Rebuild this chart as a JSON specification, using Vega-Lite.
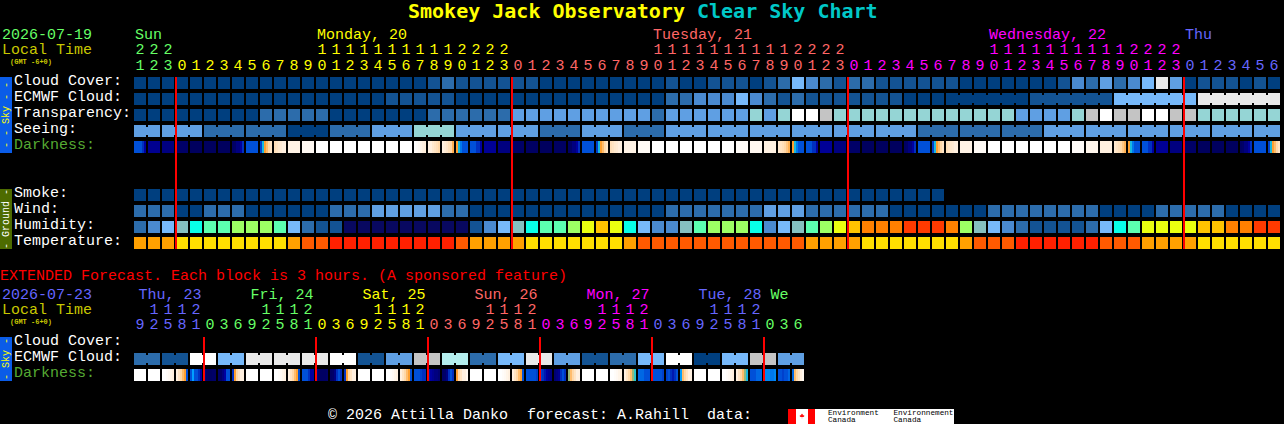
{"$schema":"https://vega.github.io/schema/vega-lite/v6.json","width":1284,"height":424,"padding":0,"autosize":{"type":"none"},"background":"#000000","config":{"view":{"stroke":null},"text":{"font":"Liberation Mono","fontSize":15,"align":"left","baseline":"middle"},"tick":{"opacity":1,"orient":"vertical"}},
"datasets":{"cells":[
{"row":"cc","i":0,"c":"b0"},{"row":"cc","i":1,"c":"b0"},{"row":"cc","i":2,"c":"b0"},{"row":"cc","i":3,"c":"b0"},{"row":"cc","i":4,"c":"b0"},{"row":"cc","i":5,"c":"b0"},{"row":"cc","i":6,"c":"b0"},{"row":"cc","i":7,"c":"b0"},{"row":"cc","i":8,"c":"b0"},{"row":"cc","i":9,"c":"b0"},{"row":"cc","i":10,"c":"b0"},{"row":"cc","i":11,"c":"b0"},{"row":"cc","i":12,"c":"b0"},{"row":"cc","i":13,"c":"b0"},{"row":"cc","i":14,"c":"b0"},{"row":"cc","i":15,"c":"b0"},{"row":"cc","i":16,"c":"b0"},{"row":"cc","i":17,"c":"b0"},{"row":"cc","i":18,"c":"b0"},{"row":"cc","i":19,"c":"b0"},{"row":"cc","i":20,"c":"b0"},{"row":"cc","i":21,"c":"b1"},{"row":"cc","i":22,"c":"b2"},{"row":"cc","i":23,"c":"b1"},{"row":"cc","i":24,"c":"b1"},{"row":"cc","i":25,"c":"b1"},{"row":"cc","i":26,"c":"b1"},{"row":"cc","i":27,"c":"b1"},{"row":"cc","i":28,"c":"b1"},{"row":"cc","i":29,"c":"b0"},{"row":"cc","i":30,"c":"b0"},{"row":"cc","i":31,"c":"b0"},{"row":"cc","i":32,"c":"b0"},{"row":"cc","i":33,"c":"b0"},{"row":"cc","i":34,"c":"b0"},{"row":"cc","i":35,"c":"b0"},{"row":"cc","i":36,"c":"b0"},{"row":"cc","i":37,"c":"b0"},{"row":"cc","i":38,"c":"b1"},{"row":"cc","i":39,"c":"b0"},{"row":"cc","i":40,"c":"b0"},{"row":"cc","i":41,"c":"b1"},{"row":"cc","i":42,"c":"b1"},{"row":"cc","i":43,"c":"b1"},{"row":"cc","i":44,"c":"b0"},{"row":"cc","i":45,"c":"b1"},{"row":"cc","i":46,"c":"b2"},{"row":"cc","i":47,"c":"b5"},{"row":"cc","i":48,"c":"b3"},{"row":"cc","i":49,"c":"b2"},{"row":"cc","i":50,"c":"b1"},{"row":"cc","i":51,"c":"b2"},{"row":"cc","i":52,"c":"b2"},{"row":"cc","i":53,"c":"b1"},{"row":"cc","i":54,"c":"b1"},{"row":"cc","i":55,"c":"b1"},{"row":"cc","i":56,"c":"b1"},{"row":"cc","i":57,"c":"b1"},{"row":"cc","i":58,"c":"b1"},{"row":"cc","i":59,"c":"b0"},{"row":"cc","i":60,"c":"b0"},{"row":"cc","i":61,"c":"b0"},{"row":"cc","i":62,"c":"b0"},{"row":"cc","i":63,"c":"b0"},{"row":"cc","i":64,"c":"b0"},{"row":"cc","i":65,"c":"b0"},{"row":"cc","i":66,"c":"b1"},{"row":"cc","i":67,"c":"b3"},{"row":"cc","i":68,"c":"b2"},{"row":"cc","i":69,"c":"b4"},{"row":"cc","i":70,"c":"b2"},{"row":"cc","i":71,"c":"b3"},{"row":"cc","i":72,"c":"b5"},{"row":"cc","i":73,"c":"lw"},{"row":"cc","i":74,"c":"b4"},{"row":"cc","i":75,"c":"b0"},{"row":"cc","i":76,"c":"b1"},{"row":"cc","i":77,"c":"b1"},{"row":"cc","i":78,"c":"b1"},{"row":"cc","i":79,"c":"b0"},{"row":"cc","i":80,"c":"b1"},{"row":"cc","i":81,"c":"b0"},
{"row":"ec","i":0,"c":"b0"},{"row":"ec","i":1,"c":"b0"},{"row":"ec","i":2,"c":"b0"},{"row":"ec","i":3,"c":"b0"},{"row":"ec","i":4,"c":"b0"},{"row":"ec","i":5,"c":"b0"},{"row":"ec","i":6,"c":"b0"},{"row":"ec","i":7,"c":"b0"},{"row":"ec","i":8,"c":"b0"},{"row":"ec","i":9,"c":"b0"},{"row":"ec","i":10,"c":"b0"},{"row":"ec","i":11,"c":"b0"},{"row":"ec","i":12,"c":"b0"},{"row":"ec","i":13,"c":"b0"},{"row":"ec","i":14,"c":"b0"},{"row":"ec","i":15,"c":"b0"},{"row":"ec","i":16,"c":"b0"},{"row":"ec","i":17,"c":"b0"},{"row":"ec","i":18,"c":"b1"},{"row":"ec","i":19,"c":"b1"},{"row":"ec","i":20,"c":"b1"},{"row":"ec","i":21,"c":"b1"},{"row":"ec","i":22,"c":"b1"},{"row":"ec","i":23,"c":"b0"},{"row":"ec","i":24,"c":"b0"},{"row":"ec","i":25,"c":"b0"},{"row":"ec","i":26,"c":"b0"},{"row":"ec","i":27,"c":"b0"},{"row":"ec","i":28,"c":"b0"},{"row":"ec","i":29,"c":"b0"},{"row":"ec","i":30,"c":"b0"},{"row":"ec","i":31,"c":"b0"},{"row":"ec","i":32,"c":"b0"},{"row":"ec","i":33,"c":"b0"},{"row":"ec","i":34,"c":"b0"},{"row":"ec","i":35,"c":"b0"},{"row":"ec","i":36,"c":"b0"},{"row":"ec","i":37,"c":"b0"},{"row":"ec","i":38,"c":"b2"},{"row":"ec","i":39,"c":"b2"},{"row":"ec","i":40,"c":"b3"},{"row":"ec","i":41,"c":"b3"},{"row":"ec","i":42,"c":"b3"},{"row":"ec","i":43,"c":"b5"},{"row":"ec","i":44,"c":"b3"},{"row":"ec","i":45,"c":"b2"},{"row":"ec","i":46,"c":"b1"},{"row":"ec","i":47,"c":"b2"},{"row":"ec","i":48,"c":"b1"},{"row":"ec","i":49,"c":"b1"},{"row":"ec","i":50,"c":"b1"},{"row":"ec","i":51,"c":"b1"},{"row":"ec","i":52,"c":"b1"},{"row":"ec","i":53,"c":"b1"},{"row":"ec","i":54,"c":"b1"},{"row":"ec","i":55,"c":"b0"},{"row":"ec","i":56,"c":"b0"},{"row":"ec","i":57,"c":"b0"},{"row":"ec","i":58,"c":"b0","j":1},{"row":"ec","i":59,"c":"b0","j":1},{"row":"ec","i":60,"c":"b0","j":1},{"row":"ec","i":61,"c":"b0","j":1},{"row":"ec","i":62,"c":"b0","j":1},{"row":"ec","i":63,"c":"b0"},{"row":"ec","i":64,"c":"b1","j":1},{"row":"ec","i":65,"c":"b1","j":1},{"row":"ec","i":66,"c":"b1","j":1},{"row":"ec","i":67,"c":"b1","j":1},{"row":"ec","i":68,"c":"b1","j":1},{"row":"ec","i":69,"c":"b1"},{"row":"ec","i":70,"c":"b5","j":1},{"row":"ec","i":71,"c":"b5","j":1},{"row":"ec","i":72,"c":"b5","j":1},{"row":"ec","i":73,"c":"b5","j":1},{"row":"ec","i":74,"c":"b5","j":1},{"row":"ec","i":75,"c":"b5"},{"row":"ec","i":76,"c":"lw","j":1},{"row":"ec","i":77,"c":"lw","j":1},{"row":"ec","i":78,"c":"lw","j":1},{"row":"ec","i":79,"c":"lw","j":1},{"row":"ec","i":80,"c":"lw","j":1},{"row":"ec","i":81,"c":"lw"},
{"row":"tr","i":0,"c":"b0"},{"row":"tr","i":1,"c":"b0"},{"row":"tr","i":2,"c":"b0"},{"row":"tr","i":3,"c":"b0"},{"row":"tr","i":4,"c":"b0"},{"row":"tr","i":5,"c":"b0"},{"row":"tr","i":6,"c":"b0"},{"row":"tr","i":7,"c":"b0"},{"row":"tr","i":8,"c":"b0"},{"row":"tr","i":9,"c":"b2"},{"row":"tr","i":10,"c":"b2"},{"row":"tr","i":11,"c":"b2"},{"row":"tr","i":12,"c":"b2"},{"row":"tr","i":13,"c":"b2"},{"row":"tr","i":14,"c":"b0"},{"row":"tr","i":15,"c":"b0"},{"row":"tr","i":16,"c":"b0"},{"row":"tr","i":17,"c":"b0"},{"row":"tr","i":18,"c":"b0"},{"row":"tr","i":19,"c":"b0"},{"row":"tr","i":20,"c":"b0"},{"row":"tr","i":21,"c":"b2"},{"row":"tr","i":22,"c":"b2"},{"row":"tr","i":23,"c":"b2"},{"row":"tr","i":24,"c":"b2"},{"row":"tr","i":25,"c":"b2"},{"row":"tr","i":26,"c":"b2"},{"row":"tr","i":27,"c":"b4"},{"row":"tr","i":28,"c":"b4"},{"row":"tr","i":29,"c":"b4"},{"row":"tr","i":30,"c":"b4"},{"row":"tr","i":31,"c":"b4"},{"row":"tr","i":32,"c":"b4"},{"row":"tr","i":33,"c":"b4"},{"row":"tr","i":34,"c":"b4"},{"row":"tr","i":35,"c":"b4"},{"row":"tr","i":36,"c":"b4"},{"row":"tr","i":37,"c":"b2"},{"row":"tr","i":38,"c":"b4"},{"row":"tr","i":39,"c":"b4"},{"row":"tr","i":40,"c":"b4"},{"row":"tr","i":41,"c":"b4"},{"row":"tr","i":42,"c":"b4"},{"row":"tr","i":43,"c":"b4"},{"row":"tr","i":44,"c":"teal"},{"row":"tr","i":45,"c":"b4"},{"row":"tr","i":46,"c":"teal"},{"row":"tr","i":47,"c":"wh"},{"row":"tr","i":48,"c":"wh"},{"row":"tr","i":49,"c":"gy"},{"row":"tr","i":50,"c":"teal"},{"row":"tr","i":51,"c":"teal"},{"row":"tr","i":52,"c":"teal"},{"row":"tr","i":53,"c":"teal"},{"row":"tr","i":54,"c":"teal"},{"row":"tr","i":55,"c":"teal"},{"row":"tr","i":56,"c":"teal"},{"row":"tr","i":57,"c":"teal"},{"row":"tr","i":58,"c":"teal"},{"row":"tr","i":59,"c":"teal"},{"row":"tr","i":60,"c":"teal"},{"row":"tr","i":61,"c":"teal"},{"row":"tr","i":62,"c":"teal"},{"row":"tr","i":63,"c":"b4"},{"row":"tr","i":64,"c":"b4"},{"row":"tr","i":65,"c":"b4"},{"row":"tr","i":66,"c":"b4"},{"row":"tr","i":67,"c":"teal"},{"row":"tr","i":68,"c":"gy"},{"row":"tr","i":69,"c":"wh"},{"row":"tr","i":70,"c":"gy"},{"row":"tr","i":71,"c":"gy"},{"row":"tr","i":72,"c":"wh"},{"row":"tr","i":73,"c":"wh"},{"row":"tr","i":74,"c":"gy"},{"row":"tr","i":75,"c":"gy"},{"row":"tr","i":76,"c":"teal"},{"row":"tr","i":77,"c":"teal"},{"row":"tr","i":78,"c":"teal"},{"row":"tr","i":79,"c":"teal"},{"row":"tr","i":80,"c":"teal"},{"row":"tr","i":81,"c":"teal"},
{"row":"se","i":0,"c":"b4","j":1},{"row":"se","i":1,"c":"b4"},{"row":"se","i":2,"c":"b4","j":1},{"row":"se","i":3,"c":"b4","j":1},{"row":"se","i":4,"c":"b4"},{"row":"se","i":5,"c":"b2","j":1},{"row":"se","i":6,"c":"b2","j":1},{"row":"se","i":7,"c":"b2"},{"row":"se","i":8,"c":"b2","j":1},{"row":"se","i":9,"c":"b2","j":1},{"row":"se","i":10,"c":"b2"},{"row":"se","i":11,"c":"b0","j":1},{"row":"se","i":12,"c":"b0","j":1},{"row":"se","i":13,"c":"b0"},{"row":"se","i":14,"c":"b2","j":1},{"row":"se","i":15,"c":"b2","j":1},{"row":"se","i":16,"c":"b2"},{"row":"se","i":17,"c":"b4","j":1},{"row":"se","i":18,"c":"b4","j":1},{"row":"se","i":19,"c":"b4"},{"row":"se","i":20,"c":"teal","j":1},{"row":"se","i":21,"c":"teal","j":1},{"row":"se","i":22,"c":"teal"},{"row":"se","i":23,"c":"b4","j":1},{"row":"se","i":24,"c":"b4","j":1},{"row":"se","i":25,"c":"b4"},{"row":"se","i":26,"c":"b4","j":1},{"row":"se","i":27,"c":"b4","j":1},{"row":"se","i":28,"c":"b4"},{"row":"se","i":29,"c":"b2","j":1},{"row":"se","i":30,"c":"b2","j":1},{"row":"se","i":31,"c":"b2"},{"row":"se","i":32,"c":"b4","j":1},{"row":"se","i":33,"c":"b4","j":1},{"row":"se","i":34,"c":"b4"},{"row":"se","i":35,"c":"b2","j":1},{"row":"se","i":36,"c":"b2","j":1},{"row":"se","i":37,"c":"b2"},{"row":"se","i":38,"c":"b4","j":1},{"row":"se","i":39,"c":"b4","j":1},{"row":"se","i":40,"c":"b4"},{"row":"se","i":41,"c":"b4","j":1},{"row":"se","i":42,"c":"b4","j":1},{"row":"se","i":43,"c":"b4"},{"row":"se","i":44,"c":"b4","j":1},{"row":"se","i":45,"c":"b4","j":1},{"row":"se","i":46,"c":"b4"},{"row":"se","i":47,"c":"b4","j":1},{"row":"se","i":48,"c":"b4","j":1},{"row":"se","i":49,"c":"b4"},{"row":"se","i":50,"c":"b4","j":1},{"row":"se","i":51,"c":"b4","j":1},{"row":"se","i":52,"c":"b4"},{"row":"se","i":53,"c":"b4","j":1},{"row":"se","i":54,"c":"b4","j":1},{"row":"se","i":55,"c":"b4"},{"row":"se","i":56,"c":"b2","j":1},{"row":"se","i":57,"c":"b2","j":1},{"row":"se","i":58,"c":"b2"},{"row":"se","i":59,"c":"b2","j":1},{"row":"se","i":60,"c":"b2","j":1},{"row":"se","i":61,"c":"b2"},{"row":"se","i":62,"c":"b2","j":1},{"row":"se","i":63,"c":"b2","j":1},{"row":"se","i":64,"c":"b2"},{"row":"se","i":65,"c":"b4","j":1},{"row":"se","i":66,"c":"b4","j":1},{"row":"se","i":67,"c":"b4"},{"row":"se","i":68,"c":"b4","j":1},{"row":"se","i":69,"c":"b4","j":1},{"row":"se","i":70,"c":"b4"},{"row":"se","i":71,"c":"b4","j":1},{"row":"se","i":72,"c":"b4","j":1},{"row":"se","i":73,"c":"b4"},{"row":"se","i":74,"c":"b4","j":1},{"row":"se","i":75,"c":"b4","j":1},{"row":"se","i":76,"c":"b4"},{"row":"se","i":77,"c":"b4","j":1},{"row":"se","i":78,"c":"b4","j":1},{"row":"se","i":79,"c":"b4"},{"row":"se","i":80,"c":"b4","j":1},{"row":"se","i":81,"c":"b4"},
{"row":"sm","i":0,"c":"b0"},{"row":"sm","i":1,"c":"b0"},{"row":"sm","i":2,"c":"b0"},{"row":"sm","i":3,"c":"b0"},{"row":"sm","i":4,"c":"b0"},{"row":"sm","i":5,"c":"b0"},{"row":"sm","i":6,"c":"b0"},{"row":"sm","i":7,"c":"b0"},{"row":"sm","i":8,"c":"b0"},{"row":"sm","i":9,"c":"b0"},{"row":"sm","i":10,"c":"b0"},{"row":"sm","i":11,"c":"b0"},{"row":"sm","i":12,"c":"b0"},{"row":"sm","i":13,"c":"b0"},{"row":"sm","i":14,"c":"b0"},{"row":"sm","i":15,"c":"b0"},{"row":"sm","i":16,"c":"b0"},{"row":"sm","i":17,"c":"b0"},{"row":"sm","i":18,"c":"b0"},{"row":"sm","i":19,"c":"b0"},{"row":"sm","i":20,"c":"b0"},{"row":"sm","i":21,"c":"b0"},{"row":"sm","i":22,"c":"b0"},{"row":"sm","i":23,"c":"b0"},{"row":"sm","i":24,"c":"b0"},{"row":"sm","i":25,"c":"b0"},{"row":"sm","i":26,"c":"b0"},{"row":"sm","i":27,"c":"b0"},{"row":"sm","i":28,"c":"b0"},{"row":"sm","i":29,"c":"b0"},{"row":"sm","i":30,"c":"b0"},{"row":"sm","i":31,"c":"b0"},{"row":"sm","i":32,"c":"b0"},{"row":"sm","i":33,"c":"b0"},{"row":"sm","i":34,"c":"b0"},{"row":"sm","i":35,"c":"b0"},{"row":"sm","i":36,"c":"b0"},{"row":"sm","i":37,"c":"b0"},{"row":"sm","i":38,"c":"b0"},{"row":"sm","i":39,"c":"b0"},{"row":"sm","i":40,"c":"b0"},{"row":"sm","i":41,"c":"b0"},{"row":"sm","i":42,"c":"b0"},{"row":"sm","i":43,"c":"b0"},{"row":"sm","i":44,"c":"b0"},{"row":"sm","i":45,"c":"b0"},{"row":"sm","i":46,"c":"b0"},{"row":"sm","i":47,"c":"b0"},{"row":"sm","i":48,"c":"b0"},{"row":"sm","i":49,"c":"b0"},{"row":"sm","i":50,"c":"b0"},{"row":"sm","i":51,"c":"b0"},{"row":"sm","i":52,"c":"b0"},{"row":"sm","i":53,"c":"b0"},{"row":"sm","i":54,"c":"b0"},{"row":"sm","i":55,"c":"b0"},{"row":"sm","i":56,"c":"b0"},{"row":"sm","i":57,"c":"b0"},
{"row":"wi","i":0,"c":"b2"},{"row":"wi","i":1,"c":"b2"},{"row":"wi","i":2,"c":"b2"},{"row":"wi","i":3,"c":"b0"},{"row":"wi","i":4,"c":"b0"},{"row":"wi","i":5,"c":"b2"},{"row":"wi","i":6,"c":"b2"},{"row":"wi","i":7,"c":"b2"},{"row":"wi","i":8,"c":"b0"},{"row":"wi","i":9,"c":"b0"},{"row":"wi","i":10,"c":"b0"},{"row":"wi","i":11,"c":"b0"},{"row":"wi","i":12,"c":"b0"},{"row":"wi","i":13,"c":"b0"},{"row":"wi","i":14,"c":"b2"},{"row":"wi","i":15,"c":"b2"},{"row":"wi","i":16,"c":"b2"},{"row":"wi","i":17,"c":"b4"},{"row":"wi","i":18,"c":"b4"},{"row":"wi","i":19,"c":"b4"},{"row":"wi","i":20,"c":"b4"},{"row":"wi","i":21,"c":"b4"},{"row":"wi","i":22,"c":"b2"},{"row":"wi","i":23,"c":"b2"},{"row":"wi","i":24,"c":"b0"},{"row":"wi","i":25,"c":"b0"},{"row":"wi","i":26,"c":"b0"},{"row":"wi","i":27,"c":"b0"},{"row":"wi","i":28,"c":"b0"},{"row":"wi","i":29,"c":"b0"},{"row":"wi","i":30,"c":"b0"},{"row":"wi","i":31,"c":"b0"},{"row":"wi","i":32,"c":"b0"},{"row":"wi","i":33,"c":"b0"},{"row":"wi","i":34,"c":"b0"},{"row":"wi","i":35,"c":"b0"},{"row":"wi","i":36,"c":"b0"},{"row":"wi","i":37,"c":"b0"},{"row":"wi","i":38,"c":"b2"},{"row":"wi","i":39,"c":"b2"},{"row":"wi","i":40,"c":"b2"},{"row":"wi","i":41,"c":"b2"},{"row":"wi","i":42,"c":"b2"},{"row":"wi","i":43,"c":"b2"},{"row":"wi","i":44,"c":"b2"},{"row":"wi","i":45,"c":"b4"},{"row":"wi","i":46,"c":"b4"},{"row":"wi","i":47,"c":"b4"},{"row":"wi","i":48,"c":"b2"},{"row":"wi","i":49,"c":"b2"},{"row":"wi","i":50,"c":"b2"},{"row":"wi","i":51,"c":"b2"},{"row":"wi","i":52,"c":"b2"},{"row":"wi","i":53,"c":"b2"},{"row":"wi","i":54,"c":"b0"},{"row":"wi","i":55,"c":"b0"},{"row":"wi","i":56,"c":"b0"},{"row":"wi","i":57,"c":"b0"},{"row":"wi","i":58,"c":"b0"},{"row":"wi","i":59,"c":"b0"},{"row":"wi","i":60,"c":"b0"},{"row":"wi","i":61,"c":"b2"},{"row":"wi","i":62,"c":"b2"},{"row":"wi","i":63,"c":"b2"},{"row":"wi","i":64,"c":"b2"},{"row":"wi","i":65,"c":"b2"},{"row":"wi","i":66,"c":"b2"},{"row":"wi","i":67,"c":"b2"},{"row":"wi","i":68,"c":"b2"},{"row":"wi","i":69,"c":"b0"},{"row":"wi","i":70,"c":"b0"},{"row":"wi","i":71,"c":"b0"},{"row":"wi","i":72,"c":"b0"},{"row":"wi","i":73,"c":"b2"},{"row":"wi","i":74,"c":"b2"},{"row":"wi","i":75,"c":"b2"},{"row":"wi","i":76,"c":"b2"},{"row":"wi","i":77,"c":"b2"},{"row":"wi","i":78,"c":"b0"},{"row":"wi","i":79,"c":"b0"},{"row":"wi","i":80,"c":"b0"},{"row":"wi","i":81,"c":"b0"},
{"row":"hu","i":0,"c":"b2"},{"row":"hu","i":1,"c":"b3"},{"row":"hu","i":2,"c":"b5"},{"row":"hu","i":3,"c":"ht"},{"row":"hu","i":4,"c":"cy"},{"row":"hu","i":5,"c":"g1"},{"row":"hu","i":6,"c":"g1"},{"row":"hu","i":7,"c":"g2"},{"row":"hu","i":8,"c":"g2"},{"row":"hu","i":9,"c":"g2"},{"row":"hu","i":10,"c":"g1"},{"row":"hu","i":11,"c":"b5"},{"row":"hu","i":12,"c":"b2"},{"row":"hu","i":13,"c":"b1"},{"row":"hu","i":14,"c":"b1"},{"row":"hu","i":15,"c":"navy"},{"row":"hu","i":16,"c":"navy"},{"row":"hu","i":17,"c":"navy"},{"row":"hu","i":18,"c":"navy"},{"row":"hu","i":19,"c":"navy"},{"row":"hu","i":20,"c":"navy"},{"row":"hu","i":21,"c":"navy"},{"row":"hu","i":22,"c":"navy"},{"row":"hu","i":23,"c":"navy"},{"row":"hu","i":24,"c":"b1"},{"row":"hu","i":25,"c":"b3"},{"row":"hu","i":26,"c":"b5"},{"row":"hu","i":27,"c":"ht"},{"row":"hu","i":28,"c":"cy"},{"row":"hu","i":29,"c":"g1"},{"row":"hu","i":30,"c":"g1"},{"row":"hu","i":31,"c":"g2"},{"row":"hu","i":32,"c":"y1"},{"row":"hu","i":33,"c":"y2"},{"row":"hu","i":34,"c":"y1"},{"row":"hu","i":35,"c":"cy"},{"row":"hu","i":36,"c":"b5"},{"row":"hu","i":37,"c":"b3"},{"row":"hu","i":38,"c":"b3"},{"row":"hu","i":39,"c":"ht"},{"row":"hu","i":40,"c":"g1"},{"row":"hu","i":41,"c":"g2"},{"row":"hu","i":42,"c":"g2"},{"row":"hu","i":43,"c":"g2"},{"row":"hu","i":44,"c":"cy"},{"row":"hu","i":45,"c":"b3"},{"row":"hu","i":46,"c":"b5"},{"row":"hu","i":47,"c":"ht"},{"row":"hu","i":48,"c":"g1"},{"row":"hu","i":49,"c":"g2"},{"row":"hu","i":50,"c":"y1"},{"row":"hu","i":51,"c":"y2"},{"row":"hu","i":52,"c":"o1"},{"row":"hu","i":53,"c":"o1"},{"row":"hu","i":54,"c":"o1"},{"row":"hu","i":55,"c":"o2"},{"row":"hu","i":56,"c":"o2"},{"row":"hu","i":57,"c":"o2"},{"row":"hu","i":58,"c":"o1"},{"row":"hu","i":59,"c":"g2"},{"row":"hu","i":60,"c":"ht"},{"row":"hu","i":61,"c":"b5"},{"row":"hu","i":62,"c":"b3"},{"row":"hu","i":63,"c":"b2"},{"row":"hu","i":64,"c":"b1"},{"row":"hu","i":65,"c":"b1"},{"row":"hu","i":66,"c":"b1"},{"row":"hu","i":67,"c":"b1"},{"row":"hu","i":68,"c":"b2"},{"row":"hu","i":69,"c":"b5"},{"row":"hu","i":70,"c":"cy"},{"row":"hu","i":71,"c":"g1"},{"row":"hu","i":72,"c":"y1"},{"row":"hu","i":73,"c":"y1"},{"row":"hu","i":74,"c":"y1"},{"row":"hu","i":75,"c":"y1"},{"row":"hu","i":76,"c":"y2"},{"row":"hu","i":77,"c":"y2"},{"row":"hu","i":78,"c":"o1"},{"row":"hu","i":79,"c":"o1"},{"row":"hu","i":80,"c":"o2"},{"row":"hu","i":81,"c":"o2"},
{"row":"te","i":0,"c":"To"},{"row":"te","i":1,"c":"To"},{"row":"te","i":2,"c":"To"},{"row":"te","i":3,"c":"Ty"},{"row":"te","i":4,"c":"Ty"},{"row":"te","i":5,"c":"Ty"},{"row":"te","i":6,"c":"Ty"},{"row":"te","i":7,"c":"Ty"},{"row":"te","i":8,"c":"Ty"},{"row":"te","i":9,"c":"Ty"},{"row":"te","i":10,"c":"Ty"},{"row":"te","i":11,"c":"To"},{"row":"te","i":12,"c":"Td"},{"row":"te","i":13,"c":"Td"},{"row":"te","i":14,"c":"Tr"},{"row":"te","i":15,"c":"Tr"},{"row":"te","i":16,"c":"Tr"},{"row":"te","i":17,"c":"Tr"},{"row":"te","i":18,"c":"Tr"},{"row":"te","i":19,"c":"Tr"},{"row":"te","i":20,"c":"Tr"},{"row":"te","i":21,"c":"Tr"},{"row":"te","i":22,"c":"Tr"},{"row":"te","i":23,"c":"Td"},{"row":"te","i":24,"c":"To"},{"row":"te","i":25,"c":"To"},{"row":"te","i":26,"c":"To"},{"row":"te","i":27,"c":"To"},{"row":"te","i":28,"c":"Ty"},{"row":"te","i":29,"c":"Ty"},{"row":"te","i":30,"c":"Ty"},{"row":"te","i":31,"c":"Ty"},{"row":"te","i":32,"c":"Ty"},{"row":"te","i":33,"c":"Ty"},{"row":"te","i":34,"c":"Ty"},{"row":"te","i":35,"c":"To"},{"row":"te","i":36,"c":"Td"},{"row":"te","i":37,"c":"Td"},{"row":"te","i":38,"c":"Td"},{"row":"te","i":39,"c":"Td"},{"row":"te","i":40,"c":"Td"},{"row":"te","i":41,"c":"Td"},{"row":"te","i":42,"c":"Td"},{"row":"te","i":43,"c":"Td"},{"row":"te","i":44,"c":"Td"},{"row":"te","i":45,"c":"Td"},{"row":"te","i":46,"c":"Td"},{"row":"te","i":47,"c":"Td"},{"row":"te","i":48,"c":"To"},{"row":"te","i":49,"c":"To"},{"row":"te","i":50,"c":"To"},{"row":"te","i":51,"c":"To"},{"row":"te","i":52,"c":"Ty"},{"row":"te","i":53,"c":"Ty"},{"row":"te","i":54,"c":"Ty"},{"row":"te","i":55,"c":"Ty"},{"row":"te","i":56,"c":"Ty"},{"row":"te","i":57,"c":"Ty"},{"row":"te","i":58,"c":"Ty"},{"row":"te","i":59,"c":"To"},{"row":"te","i":60,"c":"Td"},{"row":"te","i":61,"c":"Td"},{"row":"te","i":62,"c":"Td"},{"row":"te","i":63,"c":"Tr"},{"row":"te","i":64,"c":"Tr"},{"row":"te","i":65,"c":"Tr"},{"row":"te","i":66,"c":"Tr"},{"row":"te","i":67,"c":"Tr"},{"row":"te","i":68,"c":"Tr"},{"row":"te","i":69,"c":"Td"},{"row":"te","i":70,"c":"Td"},{"row":"te","i":71,"c":"Td"},{"row":"te","i":72,"c":"To"},{"row":"te","i":73,"c":"To"},{"row":"te","i":74,"c":"To"},{"row":"te","i":75,"c":"To"},{"row":"te","i":76,"c":"Ty"},{"row":"te","i":77,"c":"Ty"},{"row":"te","i":78,"c":"Ty"},{"row":"te","i":79,"c":"Ty"},{"row":"te","i":80,"c":"Ty"},{"row":"te","i":81,"c":"Ty"},
{"row":"xe","i":0,"c":"b2","j":1},{"row":"xe","i":1,"c":"b2"},{"row":"xe","i":2,"c":"b1","j":1},{"row":"xe","i":3,"c":"b1"},{"row":"xe","i":4,"c":"wh","j":1},{"row":"xe","i":5,"c":"wh"},{"row":"xe","i":6,"c":"b5","j":1},{"row":"xe","i":7,"c":"b5"},{"row":"xe","i":8,"c":"lw","j":1},{"row":"xe","i":9,"c":"lw"},{"row":"xe","i":10,"c":"lw","j":1},{"row":"xe","i":11,"c":"lw"},{"row":"xe","i":12,"c":"lw","j":1},{"row":"xe","i":13,"c":"lw"},{"row":"xe","i":14,"c":"wh","j":1},{"row":"xe","i":15,"c":"wh"},{"row":"xe","i":16,"c":"b1","j":1},{"row":"xe","i":17,"c":"b1"},{"row":"xe","i":18,"c":"b4","j":1},{"row":"xe","i":19,"c":"b4"},{"row":"xe","i":20,"c":"gy","j":1},{"row":"xe","i":21,"c":"gy"},{"row":"xe","i":22,"c":"pale","j":1},{"row":"xe","i":23,"c":"pale"},{"row":"xe","i":24,"c":"b2","j":1},{"row":"xe","i":25,"c":"b2"},{"row":"xe","i":26,"c":"b5","j":1},{"row":"xe","i":27,"c":"b5"},{"row":"xe","i":28,"c":"lw","j":1},{"row":"xe","i":29,"c":"lw"},{"row":"xe","i":30,"c":"b4","j":1},{"row":"xe","i":31,"c":"b4"},{"row":"xe","i":32,"c":"b1","j":1},{"row":"xe","i":33,"c":"b1"},{"row":"xe","i":34,"c":"b2","j":1},{"row":"xe","i":35,"c":"b2"},{"row":"xe","i":36,"c":"b5","j":1},{"row":"xe","i":37,"c":"b5"},{"row":"xe","i":38,"c":"wh","j":1},{"row":"xe","i":39,"c":"wh"},{"row":"xe","i":40,"c":"b0","j":1},{"row":"xe","i":41,"c":"b0"},{"row":"xe","i":42,"c":"b5","j":1},{"row":"xe","i":43,"c":"b5"},{"row":"xe","i":44,"c":"gy","j":1},{"row":"xe","i":45,"c":"gy"},{"row":"xe","i":46,"c":"b4","j":1},{"row":"xe","i":47,"c":"b4"}
],
"dark":[
{"row":"da","i":0,"s":0,"d":4},{"row":"da","i":0,"s":1,"d":4},{"row":"da","i":0,"s":2,"d":4},{"row":"da","i":0,"s":3,"d":4},{"row":"da","i":0,"s":4,"d":3},{"row":"da","i":0,"s":5,"d":2},
{"row":"da","i":1,"d":1.5},{"row":"da","i":2,"d":1},{"row":"da","i":3,"d":0.5},{"row":"da","i":4,"d":0.3},{"row":"da","i":5,"d":0.3},{"row":"da","i":6,"d":0.3},
{"row":"da","i":7,"s":0,"d":0.4},{"row":"da","i":7,"s":1,"d":0.5},{"row":"da","i":7,"s":2,"d":1},{"row":"da","i":7,"s":3,"d":1},{"row":"da","i":7,"s":4,"d":2},{"row":"da","i":7,"s":5,"d":3},
{"row":"da","i":8,"d":4},
{"row":"da","i":9,"s":0,"d":3.5},{"row":"da","i":9,"s":1,"d":5.5},{"row":"da","i":9,"s":2,"d":7},{"row":"da","i":9,"s":3,"d":7.5},{"row":"da","i":9,"s":4,"d":8},{"row":"da","i":9,"s":5,"d":8.5},
{"row":"da","i":10,"s":0,"d":8.3},{"row":"da","i":10,"s":1,"d":8.5},{"row":"da","i":10,"s":2,"d":8.7},{"row":"da","i":10,"s":3,"d":8.8},{"row":"da","i":10,"s":4,"d":9},{"row":"da","i":10,"s":5,"d":9},
{"row":"da","i":11,"d":9.2},{"row":"da","i":12,"d":9.6},{"row":"da","i":13,"d":10},{"row":"da","i":14,"d":10},{"row":"da","i":15,"d":10},{"row":"da","i":16,"d":10},{"row":"da","i":17,"d":10},{"row":"da","i":18,"d":10},{"row":"da","i":19,"d":10},
{"row":"da","i":20,"s":0,"d":10},{"row":"da","i":20,"s":1,"d":9.8},{"row":"da","i":20,"s":2,"d":9.6},{"row":"da","i":20,"s":3,"d":9.3},{"row":"da","i":20,"s":4,"d":9},{"row":"da","i":20,"s":5,"d":8.9},
{"row":"da","i":21,"s":0,"d":9},{"row":"da","i":21,"s":1,"d":9},{"row":"da","i":21,"s":2,"d":8.7},{"row":"da","i":21,"s":3,"d":8.5},{"row":"da","i":21,"s":4,"d":8.3},{"row":"da","i":21,"s":5,"d":8},
{"row":"da","i":22,"s":0,"d":9},{"row":"da","i":22,"s":1,"d":8.8},{"row":"da","i":22,"s":2,"d":8.6},{"row":"da","i":22,"s":3,"d":8.3},{"row":"da","i":22,"s":4,"d":8},{"row":"da","i":22,"s":5,"d":7.3},
{"row":"da","i":23,"s":0,"d":7},{"row":"da","i":23,"s":1,"d":5.5},{"row":"da","i":23,"s":2,"d":4.5},{"row":"da","i":23,"s":3,"d":4},{"row":"da","i":23,"s":4,"d":4},{"row":"da","i":23,"s":5,"d":4},
{"row":"da","i":24,"s":0,"d":4},{"row":"da","i":24,"s":1,"d":4},{"row":"da","i":24,"s":2,"d":4},{"row":"da","i":24,"s":3,"d":3},{"row":"da","i":24,"s":4,"d":3},{"row":"da","i":24,"s":5,"d":2},
{"row":"da","i":25,"d":1.7},{"row":"da","i":26,"d":1},{"row":"da","i":27,"d":0.5},{"row":"da","i":28,"d":0.4},{"row":"da","i":29,"d":0.3},{"row":"da","i":30,"d":0.4},
{"row":"da","i":31,"s":0,"d":0.4},{"row":"da","i":31,"s":1,"d":0.5},{"row":"da","i":31,"s":2,"d":1},{"row":"da","i":31,"s":3,"d":1},{"row":"da","i":31,"s":4,"d":2},{"row":"da","i":31,"s":5,"d":3},
{"row":"da","i":32,"d":4},
{"row":"da","i":33,"s":0,"d":3.5},{"row":"da","i":33,"s":1,"d":5.5},{"row":"da","i":33,"s":2,"d":7},{"row":"da","i":33,"s":3,"d":7.5},{"row":"da","i":33,"s":4,"d":8},{"row":"da","i":33,"s":5,"d":8.5},
{"row":"da","i":34,"s":0,"d":8.3},{"row":"da","i":34,"s":1,"d":8.5},{"row":"da","i":34,"s":2,"d":8.7},{"row":"da","i":34,"s":3,"d":8.8},{"row":"da","i":34,"s":4,"d":9},{"row":"da","i":34,"s":5,"d":9},
{"row":"da","i":35,"d":9.2},{"row":"da","i":36,"d":9.7},{"row":"da","i":37,"d":10},{"row":"da","i":38,"d":10},{"row":"da","i":39,"d":10},{"row":"da","i":40,"d":10},{"row":"da","i":41,"d":10},{"row":"da","i":42,"d":10},{"row":"da","i":43,"d":9.8},{"row":"da","i":44,"d":9.5},{"row":"da","i":45,"d":9.1},
{"row":"da","i":46,"s":0,"d":8.7},{"row":"da","i":46,"s":1,"d":8.5},{"row":"da","i":46,"s":2,"d":8.3},{"row":"da","i":46,"s":3,"d":8},{"row":"da","i":46,"s":4,"d":7.7},{"row":"da","i":46,"s":5,"d":7.3},
{"row":"da","i":47,"s":0,"d":7},{"row":"da","i":47,"s":1,"d":5.5},{"row":"da","i":47,"s":2,"d":4.5},{"row":"da","i":47,"s":3,"d":4},{"row":"da","i":47,"s":4,"d":4},{"row":"da","i":47,"s":5,"d":4},
{"row":"da","i":48,"s":0,"d":4},{"row":"da","i":48,"s":1,"d":4},{"row":"da","i":48,"s":2,"d":4},{"row":"da","i":48,"s":3,"d":3},{"row":"da","i":48,"s":4,"d":3},{"row":"da","i":48,"s":5,"d":2},
{"row":"da","i":49,"d":1.7},{"row":"da","i":50,"d":1},{"row":"da","i":51,"d":0.5},{"row":"da","i":52,"d":0.3},{"row":"da","i":53,"d":0.3},{"row":"da","i":54,"d":0.3},
{"row":"da","i":55,"s":0,"d":0.4},{"row":"da","i":55,"s":1,"d":0.5},{"row":"da","i":55,"s":2,"d":1},{"row":"da","i":55,"s":3,"d":1},{"row":"da","i":55,"s":4,"d":2},{"row":"da","i":55,"s":5,"d":3},
{"row":"da","i":56,"d":4},
{"row":"da","i":57,"s":0,"d":3.5},{"row":"da","i":57,"s":1,"d":5.5},{"row":"da","i":57,"s":2,"d":7},{"row":"da","i":57,"s":3,"d":7.5},{"row":"da","i":57,"s":4,"d":8},{"row":"da","i":57,"s":5,"d":8.5},
{"row":"da","i":58,"s":0,"d":8.3},{"row":"da","i":58,"s":1,"d":8.5},{"row":"da","i":58,"s":2,"d":8.7},{"row":"da","i":58,"s":3,"d":8.8},{"row":"da","i":58,"s":4,"d":9},{"row":"da","i":58,"s":5,"d":9},
{"row":"da","i":59,"d":9.2},{"row":"da","i":60,"d":9.7},{"row":"da","i":61,"d":10},{"row":"da","i":62,"d":10},{"row":"da","i":63,"d":10},{"row":"da","i":64,"d":10},{"row":"da","i":65,"d":10},{"row":"da","i":66,"d":10},{"row":"da","i":67,"d":9.8},{"row":"da","i":68,"d":9.4},{"row":"da","i":69,"d":9},
{"row":"da","i":70,"s":0,"d":8.7},{"row":"da","i":70,"s":1,"d":8.5},{"row":"da","i":70,"s":2,"d":8.3},{"row":"da","i":70,"s":3,"d":8},{"row":"da","i":70,"s":4,"d":7.7},{"row":"da","i":70,"s":5,"d":7.3},
{"row":"da","i":71,"s":0,"d":7},{"row":"da","i":71,"s":1,"d":5.5},{"row":"da","i":71,"s":2,"d":4.5},{"row":"da","i":71,"s":3,"d":4},{"row":"da","i":71,"s":4,"d":4},{"row":"da","i":71,"s":5,"d":4},
{"row":"da","i":72,"s":0,"d":4},{"row":"da","i":72,"s":1,"d":4},{"row":"da","i":72,"s":2,"d":4},{"row":"da","i":72,"s":3,"d":3},{"row":"da","i":72,"s":4,"d":3},{"row":"da","i":72,"s":5,"d":2},
{"row":"da","i":73,"d":1.7},{"row":"da","i":74,"d":1},{"row":"da","i":75,"d":0.5},{"row":"da","i":76,"d":0.3},{"row":"da","i":77,"d":0.3},{"row":"da","i":78,"d":0.3},
{"row":"da","i":79,"s":0,"d":0.4},{"row":"da","i":79,"s":1,"d":0.5},{"row":"da","i":79,"s":2,"d":1},{"row":"da","i":79,"s":3,"d":1},{"row":"da","i":79,"s":4,"d":2},{"row":"da","i":79,"s":5,"d":3},
{"row":"da","i":80,"d":4},
{"row":"da","i":81,"s":0,"d":3.5},{"row":"da","i":81,"s":1,"d":5.5},{"row":"da","i":81,"s":2,"d":7},{"row":"da","i":81,"s":3,"d":7.5},{"row":"da","i":81,"s":4,"d":8},{"row":"da","i":81,"s":5,"d":8.5},
{"row":"xd","i":0,"d":10},{"row":"xd","i":1,"d":10},
{"row":"xd","i":2,"s":0,"d":10},{"row":"xd","i":2,"s":1,"d":10},{"row":"xd","i":2,"s":2,"d":9.8},{"row":"xd","i":2,"s":3,"d":9.6},{"row":"xd","i":2,"s":4,"d":9.3},{"row":"xd","i":2,"s":5,"d":9},
{"row":"xd","i":3,"s":0,"d":9},{"row":"xd","i":3,"s":1,"d":8.5},{"row":"xd","i":3,"s":2,"d":8},{"row":"xd","i":3,"s":3,"d":7.5},{"row":"xd","i":3,"s":4,"d":7},{"row":"xd","i":3,"s":5,"d":4},
{"row":"xd","i":4,"s":0,"d":4},{"row":"xd","i":4,"s":1,"d":5},{"row":"xd","i":4,"s":2,"d":4},{"row":"xd","i":4,"s":3,"d":4},{"row":"xd","i":4,"s":4,"d":3},{"row":"xd","i":4,"s":5,"d":2},
{"row":"xd","i":5,"s":0,"d":1},{"row":"xd","i":5,"s":1,"d":0.5},{"row":"xd","i":5,"s":2,"d":0.4},{"row":"xd","i":5,"s":3,"d":0.4},{"row":"xd","i":5,"s":4,"d":0.5},{"row":"xd","i":5,"s":5,"d":0.5},
{"row":"xd","i":6,"s":0,"d":0.5},{"row":"xd","i":6,"s":1,"d":0.5},{"row":"xd","i":6,"s":2,"d":1},{"row":"xd","i":6,"s":3,"d":2},{"row":"xd","i":6,"s":4,"d":4},{"row":"xd","i":6,"s":5,"d":4},
{"row":"xd","i":7,"s":0,"d":3},{"row":"xd","i":7,"s":1,"d":7},{"row":"xd","i":7,"s":2,"d":8},{"row":"xd","i":7,"s":3,"d":8.5},{"row":"xd","i":7,"s":4,"d":9},{"row":"xd","i":7,"s":5,"d":9},
{"row":"xd","i":8,"d":10},{"row":"xd","i":9,"d":10},
{"row":"xd","i":10,"s":0,"d":10},{"row":"xd","i":10,"s":1,"d":10},{"row":"xd","i":10,"s":2,"d":9.8},{"row":"xd","i":10,"s":3,"d":9.6},{"row":"xd","i":10,"s":4,"d":9.3},{"row":"xd","i":10,"s":5,"d":9},
{"row":"xd","i":11,"s":0,"d":9},{"row":"xd","i":11,"s":1,"d":8.5},{"row":"xd","i":11,"s":2,"d":8},{"row":"xd","i":11,"s":3,"d":7.5},{"row":"xd","i":11,"s":4,"d":7},{"row":"xd","i":11,"s":5,"d":4},
{"row":"xd","i":12,"s":0,"d":4},{"row":"xd","i":12,"s":1,"d":4},{"row":"xd","i":12,"s":2,"d":4},{"row":"xd","i":12,"s":3,"d":3},{"row":"xd","i":12,"s":4,"d":2},{"row":"xd","i":12,"s":5,"d":2},
{"row":"xd","i":13,"s":0,"d":1},{"row":"xd","i":13,"s":1,"d":0.5},{"row":"xd","i":13,"s":2,"d":0.4},{"row":"xd","i":13,"s":3,"d":0.4},{"row":"xd","i":13,"s":4,"d":0.4},{"row":"xd","i":13,"s":5,"d":0.5},
{"row":"xd","i":14,"s":0,"d":0.4},{"row":"xd","i":14,"s":1,"d":0.5},{"row":"xd","i":14,"s":2,"d":1},{"row":"xd","i":14,"s":3,"d":3},{"row":"xd","i":14,"s":4,"d":4},{"row":"xd","i":14,"s":5,"d":3},
{"row":"xd","i":15,"s":0,"d":3},{"row":"xd","i":15,"s":1,"d":7},{"row":"xd","i":15,"s":2,"d":8},{"row":"xd","i":15,"s":3,"d":8.5},{"row":"xd","i":15,"s":4,"d":9},{"row":"xd","i":15,"s":5,"d":9},
{"row":"xd","i":16,"d":10},{"row":"xd","i":17,"d":10},
{"row":"xd","i":18,"s":0,"d":10},{"row":"xd","i":18,"s":1,"d":10},{"row":"xd","i":18,"s":2,"d":9.8},{"row":"xd","i":18,"s":3,"d":9.6},{"row":"xd","i":18,"s":4,"d":9.3},{"row":"xd","i":18,"s":5,"d":9},
{"row":"xd","i":19,"s":0,"d":9},{"row":"xd","i":19,"s":1,"d":8.5},{"row":"xd","i":19,"s":2,"d":8},{"row":"xd","i":19,"s":3,"d":7.5},{"row":"xd","i":19,"s":4,"d":7},{"row":"xd","i":19,"s":5,"d":4},
{"row":"xd","i":20,"s":0,"d":4},{"row":"xd","i":20,"s":1,"d":4},{"row":"xd","i":20,"s":2,"d":4},{"row":"xd","i":20,"s":3,"d":3.5},{"row":"xd","i":20,"s":4,"d":3},{"row":"xd","i":20,"s":5,"d":3},
{"row":"xd","i":21,"s":0,"d":2.5},{"row":"xd","i":21,"s":1,"d":2},{"row":"xd","i":21,"s":2,"d":1.5},{"row":"xd","i":21,"s":3,"d":1},{"row":"xd","i":21,"s":4,"d":1},{"row":"xd","i":21,"s":5,"d":0.7},
{"row":"xd","i":22,"s":0,"d":0.4},{"row":"xd","i":22,"s":1,"d":0.5},{"row":"xd","i":22,"s":2,"d":1},{"row":"xd","i":22,"s":3,"d":3},{"row":"xd","i":22,"s":4,"d":4},{"row":"xd","i":22,"s":5,"d":3},
{"row":"xd","i":23,"s":0,"d":7},{"row":"xd","i":23,"s":1,"d":8},{"row":"xd","i":23,"s":2,"d":8.5},{"row":"xd","i":23,"s":3,"d":9},{"row":"xd","i":23,"s":4,"d":9},{"row":"xd","i":23,"s":5,"d":9.5},
{"row":"xd","i":24,"d":10},{"row":"xd","i":25,"d":10},
{"row":"xd","i":26,"s":0,"d":10},{"row":"xd","i":26,"s":1,"d":10},{"row":"xd","i":26,"s":2,"d":9.8},{"row":"xd","i":26,"s":3,"d":9.6},{"row":"xd","i":26,"s":4,"d":9.3},{"row":"xd","i":26,"s":5,"d":9},
{"row":"xd","i":27,"s":0,"d":9},{"row":"xd","i":27,"s":1,"d":8.5},{"row":"xd","i":27,"s":2,"d":8},{"row":"xd","i":27,"s":3,"d":7.5},{"row":"xd","i":27,"s":4,"d":7},{"row":"xd","i":27,"s":5,"d":4},
{"row":"xd","i":28,"s":0,"d":4},{"row":"xd","i":28,"s":1,"d":4},{"row":"xd","i":28,"s":2,"d":4},{"row":"xd","i":28,"s":3,"d":4},{"row":"xd","i":28,"s":4,"d":4},{"row":"xd","i":28,"s":5,"d":3.5},
{"row":"xd","i":29,"s":0,"d":3.5},{"row":"xd","i":29,"s":1,"d":3},{"row":"xd","i":29,"s":2,"d":2.5},{"row":"xd","i":29,"s":3,"d":2},{"row":"xd","i":29,"s":4,"d":1.5},{"row":"xd","i":29,"s":5,"d":1},
{"row":"xd","i":30,"s":0,"d":0.7},{"row":"xd","i":30,"s":1,"d":1},{"row":"xd","i":30,"s":2,"d":1.5},{"row":"xd","i":30,"s":3,"d":3},{"row":"xd","i":30,"s":4,"d":4},{"row":"xd","i":30,"s":5,"d":3},
{"row":"xd","i":31,"s":0,"d":6.5},{"row":"xd","i":31,"s":1,"d":7.5},{"row":"xd","i":31,"s":2,"d":8},{"row":"xd","i":31,"s":3,"d":8.5},{"row":"xd","i":31,"s":4,"d":9},{"row":"xd","i":31,"s":5,"d":9},
{"row":"xd","i":32,"d":10},{"row":"xd","i":33,"d":10},
{"row":"xd","i":34,"s":0,"d":10},{"row":"xd","i":34,"s":1,"d":10},{"row":"xd","i":34,"s":2,"d":9.8},{"row":"xd","i":34,"s":3,"d":9.6},{"row":"xd","i":34,"s":4,"d":9.3},{"row":"xd","i":34,"s":5,"d":9},
{"row":"xd","i":35,"s":0,"d":9},{"row":"xd","i":35,"s":1,"d":8.5},{"row":"xd","i":35,"s":2,"d":8},{"row":"xd","i":35,"s":3,"d":7.5},{"row":"xd","i":35,"s":4,"d":6.5},{"row":"xd","i":35,"s":5,"d":5.8},
{"row":"xd","i":36,"s":0,"d":4.3},{"row":"xd","i":36,"s":1,"d":4.3},{"row":"xd","i":36,"s":2,"d":4.3},{"row":"xd","i":36,"s":3,"d":4},{"row":"xd","i":36,"s":4,"d":4},{"row":"xd","i":36,"s":5,"d":4},
{"row":"xd","i":37,"s":0,"d":4},{"row":"xd","i":37,"s":1,"d":4},{"row":"xd","i":37,"s":2,"d":4},{"row":"xd","i":37,"s":3,"d":4},{"row":"xd","i":37,"s":4,"d":4},{"row":"xd","i":37,"s":5,"d":3.5},
{"row":"xd","i":38,"s":0,"d":3.5},{"row":"xd","i":38,"s":1,"d":4},{"row":"xd","i":38,"s":2,"d":3},{"row":"xd","i":38,"s":3,"d":2.5},{"row":"xd","i":38,"s":4,"d":3},{"row":"xd","i":38,"s":5,"d":4},
{"row":"xd","i":39,"s":0,"d":5},{"row":"xd","i":39,"s":1,"d":7.5},{"row":"xd","i":39,"s":2,"d":8},{"row":"xd","i":39,"s":3,"d":8.5},{"row":"xd","i":39,"s":4,"d":9},{"row":"xd","i":39,"s":5,"d":9},
{"row":"xd","i":40,"d":10},{"row":"xd","i":41,"d":10},
{"row":"xd","i":42,"s":0,"d":10},{"row":"xd","i":42,"s":1,"d":10},{"row":"xd","i":42,"s":2,"d":9.8},{"row":"xd","i":42,"s":3,"d":9.6},{"row":"xd","i":42,"s":4,"d":9.3},{"row":"xd","i":42,"s":5,"d":9},
{"row":"xd","i":43,"s":0,"d":9},{"row":"xd","i":43,"s":1,"d":8.5},{"row":"xd","i":43,"s":2,"d":8},{"row":"xd","i":43,"s":3,"d":7.5},{"row":"xd","i":43,"s":4,"d":6.5},{"row":"xd","i":43,"s":5,"d":5.5},
{"row":"xd","i":44,"s":0,"d":4},{"row":"xd","i":44,"s":1,"d":4},{"row":"xd","i":44,"s":2,"d":4},{"row":"xd","i":44,"s":3,"d":4.3},{"row":"xd","i":44,"s":4,"d":4.3},{"row":"xd","i":44,"s":5,"d":4.3},
{"row":"xd","i":45,"s":0,"d":4.7},{"row":"xd","i":45,"s":1,"d":4.7},{"row":"xd","i":45,"s":2,"d":4.7},{"row":"xd","i":45,"s":3,"d":4.5},{"row":"xd","i":45,"s":4,"d":4.5},{"row":"xd","i":45,"s":5,"d":4.7},
{"row":"xd","i":46,"s":0,"d":4},{"row":"xd","i":46,"s":1,"d":4},{"row":"xd","i":46,"s":2,"d":3.5},{"row":"xd","i":46,"s":3,"d":4},{"row":"xd","i":46,"s":4,"d":4},{"row":"xd","i":46,"s":5,"d":4.3},
{"row":"xd","i":47,"s":0,"d":4.3},{"row":"xd","i":47,"s":1,"d":7.5},{"row":"xd","i":47,"s":2,"d":8},{"row":"xd","i":47,"s":3,"d":8.5},{"row":"xd","i":47,"s":4,"d":9},{"row":"xd","i":47,"s":5,"d":9.5}
],
"hours":[{"i":0,"tens":"2","ones":"1","date":19},{"i":1,"tens":"2","ones":"2","date":19},{"i":2,"tens":"2","ones":"3","date":19},
{"i":3,"tens":"","ones":"0","date":20},{"i":4,"tens":"","ones":"1","date":20},{"i":5,"tens":"","ones":"2","date":20},{"i":6,"tens":"","ones":"3","date":20},{"i":7,"tens":"","ones":"4","date":20},{"i":8,"tens":"","ones":"5","date":20},{"i":9,"tens":"","ones":"6","date":20},{"i":10,"tens":"","ones":"7","date":20},{"i":11,"tens":"","ones":"8","date":20},{"i":12,"tens":"","ones":"9","date":20},{"i":13,"tens":"1","ones":"0","date":20},{"i":14,"tens":"1","ones":"1","date":20},{"i":15,"tens":"1","ones":"2","date":20},{"i":16,"tens":"1","ones":"3","date":20},{"i":17,"tens":"1","ones":"4","date":20},{"i":18,"tens":"1","ones":"5","date":20},{"i":19,"tens":"1","ones":"6","date":20},{"i":20,"tens":"1","ones":"7","date":20},{"i":21,"tens":"1","ones":"8","date":20},{"i":22,"tens":"1","ones":"9","date":20},{"i":23,"tens":"2","ones":"0","date":20},{"i":24,"tens":"2","ones":"1","date":20},{"i":25,"tens":"2","ones":"2","date":20},{"i":26,"tens":"2","ones":"3","date":20},
{"i":27,"tens":"","ones":"0","date":21},{"i":28,"tens":"","ones":"1","date":21},{"i":29,"tens":"","ones":"2","date":21},{"i":30,"tens":"","ones":"3","date":21},{"i":31,"tens":"","ones":"4","date":21},{"i":32,"tens":"","ones":"5","date":21},{"i":33,"tens":"","ones":"6","date":21},{"i":34,"tens":"","ones":"7","date":21},{"i":35,"tens":"","ones":"8","date":21},{"i":36,"tens":"","ones":"9","date":21},{"i":37,"tens":"1","ones":"0","date":21},{"i":38,"tens":"1","ones":"1","date":21},{"i":39,"tens":"1","ones":"2","date":21},{"i":40,"tens":"1","ones":"3","date":21},{"i":41,"tens":"1","ones":"4","date":21},{"i":42,"tens":"1","ones":"5","date":21},{"i":43,"tens":"1","ones":"6","date":21},{"i":44,"tens":"1","ones":"7","date":21},{"i":45,"tens":"1","ones":"8","date":21},{"i":46,"tens":"1","ones":"9","date":21},{"i":47,"tens":"2","ones":"0","date":21},{"i":48,"tens":"2","ones":"1","date":21},{"i":49,"tens":"2","ones":"2","date":21},{"i":50,"tens":"2","ones":"3","date":21},
{"i":51,"tens":"","ones":"0","date":22},{"i":52,"tens":"","ones":"1","date":22},{"i":53,"tens":"","ones":"2","date":22},{"i":54,"tens":"","ones":"3","date":22},{"i":55,"tens":"","ones":"4","date":22},{"i":56,"tens":"","ones":"5","date":22},{"i":57,"tens":"","ones":"6","date":22},{"i":58,"tens":"","ones":"7","date":22},{"i":59,"tens":"","ones":"8","date":22},{"i":60,"tens":"","ones":"9","date":22},{"i":61,"tens":"1","ones":"0","date":22},{"i":62,"tens":"1","ones":"1","date":22},{"i":63,"tens":"1","ones":"2","date":22},{"i":64,"tens":"1","ones":"3","date":22},{"i":65,"tens":"1","ones":"4","date":22},{"i":66,"tens":"1","ones":"5","date":22},{"i":67,"tens":"1","ones":"6","date":22},{"i":68,"tens":"1","ones":"7","date":22},{"i":69,"tens":"1","ones":"8","date":22},{"i":70,"tens":"1","ones":"9","date":22},{"i":71,"tens":"2","ones":"0","date":22},{"i":72,"tens":"2","ones":"1","date":22},{"i":73,"tens":"2","ones":"2","date":22},{"i":74,"tens":"2","ones":"3","date":22},
{"i":75,"tens":"","ones":"0","date":23},{"i":76,"tens":"","ones":"1","date":23},{"i":77,"tens":"","ones":"2","date":23},{"i":78,"tens":"","ones":"3","date":23},{"i":79,"tens":"","ones":"4","date":23},{"i":80,"tens":"","ones":"5","date":23},{"i":81,"tens":"","ones":"6","date":23}],
"xhours":[{"i":0,"tens":"","ones":"9","date":23},{"i":1,"tens":"1","ones":"2","date":23},{"i":2,"tens":"1","ones":"5","date":23},{"i":3,"tens":"1","ones":"8","date":23},{"i":4,"tens":"2","ones":"1","date":23},
{"i":5,"tens":"","ones":"0","date":24},{"i":6,"tens":"","ones":"3","date":24},{"i":7,"tens":"","ones":"6","date":24},{"i":8,"tens":"","ones":"9","date":24},{"i":9,"tens":"1","ones":"2","date":24},{"i":10,"tens":"1","ones":"5","date":24},{"i":11,"tens":"1","ones":"8","date":24},{"i":12,"tens":"2","ones":"1","date":24},
{"i":13,"tens":"","ones":"0","date":25},{"i":14,"tens":"","ones":"3","date":25},{"i":15,"tens":"","ones":"6","date":25},{"i":16,"tens":"","ones":"9","date":25},{"i":17,"tens":"1","ones":"2","date":25},{"i":18,"tens":"1","ones":"5","date":25},{"i":19,"tens":"1","ones":"8","date":25},{"i":20,"tens":"2","ones":"1","date":25},
{"i":21,"tens":"","ones":"0","date":26},{"i":22,"tens":"","ones":"3","date":26},{"i":23,"tens":"","ones":"6","date":26},{"i":24,"tens":"","ones":"9","date":26},{"i":25,"tens":"1","ones":"2","date":26},{"i":26,"tens":"1","ones":"5","date":26},{"i":27,"tens":"1","ones":"8","date":26},{"i":28,"tens":"2","ones":"1","date":26},
{"i":29,"tens":"","ones":"0","date":27},{"i":30,"tens":"","ones":"3","date":27},{"i":31,"tens":"","ones":"6","date":27},{"i":32,"tens":"","ones":"9","date":27},{"i":33,"tens":"1","ones":"2","date":27},{"i":34,"tens":"1","ones":"5","date":27},{"i":35,"tens":"1","ones":"8","date":27},{"i":36,"tens":"2","ones":"1","date":27},
{"i":37,"tens":"","ones":"0","date":28},{"i":38,"tens":"","ones":"3","date":28},{"i":39,"tens":"","ones":"6","date":28},{"i":40,"tens":"","ones":"9","date":28},{"i":41,"tens":"1","ones":"2","date":28},{"i":42,"tens":"1","ones":"5","date":28},{"i":43,"tens":"1","ones":"8","date":28},{"i":44,"tens":"2","ones":"1","date":28},
{"i":45,"tens":"","ones":"0","date":29},{"i":46,"tens":"","ones":"3","date":29},{"i":47,"tens":"","ones":"6","date":29}],
"midnights":[{"i":3},{"i":27},{"i":51},{"i":75}],"xmid":[{"i":5},{"i":13},{"i":21},{"i":29},{"i":37},{"i":45}]},
"encoding":{"x":{"field":"i","type":"ordinal","axis":null,"scale":{"domain":[-10,-9,-8,-7,-6,-5,-4,-3,-2,-1,0,1,2,3,4,5,6,7,8,9,10,11,12,13,14,15,16,17,18,19,20,21,22,23,24,25,26,27,28,29,30,31,32,33,34,35,36,37,38,39,40,41,42,43,44,45,46,47,48,49,50,51,52,53,54,55,56,57,58,59,60,61,62,63,64,65,66,67,68,69,70,71,72,73,74,75,76,77,78,79,80,81],"range":[-6,1280],"paddingInner":0.142857,"paddingOuter":0}},"y":{"field":"row","type":"nominal","axis":null,"scale":{"domain":["title","date","tens","ones","cc","ec","tr","se","da","gap1","gap2","sm","wi","hu","te","gap3","xtitle","xdate","xtens","xones","xc","xe","xd","gap4","gap5","foot"],"range":[13,425],"paddingInner":0.25,"paddingOuter":0}}},
"resolve":{"scale":{"color":"independent"}},
"layer":[
{"data":{"name":"cells"},"encoding":{"color":{"field":"c","type":"nominal","legend":null,"scale":{"domain":["b0","b1","b2","b3","b4","b5","gy","lw","wh","teal","pale","navy","ht","cy","g1","g2","y1","y2","o1","o2","To","Ty","Td","Tr"],"range":["#003f7f","#135393","#2c6cab","#4a8ad0","#5f9fe3","#77b9fa","#c4c4c4","#e9e9e9","#ffffff","#95d5d5","#b4eeee","#080860","#85c0c0","#08ffe8","#5cffb0","#9dff64","#eaff10","#ffc400","#ff8000","#ff3a00","#ffa000","#ffdf00","#ff5a00","#ff2000"]}}},"layer":[
{"transform":[{"filter":"datum.row!='xe'"}],"mark":{"type":"rect"}},
{"transform":[{"filter":"datum.row=='xe'"}],"mark":{"type":"rect","yOffset":4}},
{"transform":[{"filter":"datum.j&&datum.row!='xe'"}],"mark":{"type":"tick","size":8,"thickness":2,"xOffset":7}},
{"transform":[{"filter":"datum.j&&datum.row=='xe'"}],"mark":{"type":"tick","size":8,"thickness":2,"xOffset":7,"yOffset":4}}
]},
{"data":{"name":"dark"},"encoding":{"color":{"field":"d","type":"quantitative","legend":null,"scale":{"interpolate":"rgb","domain":[0,1,2,3,4,5,6,7,8,9,10],"range":["#000050","#000080","#0000a0","#0030c0","#0050d8","#00a0ff","#30d0c0","#ffa030","#ffd8a8","#fff0e0","#ffffff"]}}},"layer":[
{"transform":[{"filter":"!isValid(datum.s)&&datum.row=='da'"}],"mark":{"type":"rect"}},
{"transform":[{"filter":"!isValid(datum.s)&&datum.row=='xd'"}],"mark":{"type":"rect","yOffset":4}},
{"transform":[{"filter":"isValid(datum.s)&&datum.row=='da'"}],"mark":{"type":"rect"},"encoding":{"xOffset":{"field":"s","type":"ordinal","scale":{"domain":[0,1,2,3,4,5],"paddingInner":0,"paddingOuter":0}}}},
{"transform":[{"filter":"isValid(datum.s)&&datum.row=='xd'"}],"mark":{"type":"rect","yOffset":4},"encoding":{"xOffset":{"field":"s","type":"ordinal","scale":{"domain":[0,1,2,3,4,5],"paddingInner":0,"paddingOuter":0}}}}
]},
{"data":{"name":"midnights"},"mark":{"type":"tick","size":172,"thickness":2,"xOffset":-6,"color":"#ff0000"},"encoding":{"y":{"datum":"gap1"}}},
{"data":{"name":"xmid"},"mark":{"type":"tick","size":44,"thickness":2,"xOffset":-6,"yOffset":4,"color":"#ff0000"},"encoding":{"y":{"datum":"xe"}}},
{"data":{"values":[{"i":-10,"row":"tr"}]},"mark":{"type":"tick","size":76,"thickness":12,"xOffset":6,"color":"#0a5ce8"}},
{"data":{"values":[{"i":-10,"row":"wi"}]},"mark":{"type":"tick","size":60,"thickness":12,"xOffset":6,"yOffset":8,"color":"#4d6b00"}},
{"data":{"values":[{"i":-10,"row":"xe"}]},"mark":{"type":"tick","size":44,"thickness":12,"xOffset":6,"yOffset":4,"color":"#0a5ce8"}},
{"data":{"values":[{"i":-10,"row":"tr","t":"- - Sky - -"}]},"mark":{"type":"text","angle":270,"align":"center","fontSize":10,"xOffset":6,"color":"#ffff00"},"encoding":{"text":{"field":"t"}}},
{"data":{"values":[{"i":-10,"row":"wi","t":"- Ground -"}]},"mark":{"type":"text","angle":270,"align":"center","fontSize":10,"xOffset":6,"yOffset":8,"color":"#ffffff"},"encoding":{"text":{"field":"t"}}},
{"data":{"values":[{"i":-10,"row":"xe","t":"- Sky -"}]},"mark":{"type":"text","angle":270,"align":"center","fontSize":10,"xOffset":6,"yOffset":4,"color":"#ffff00"},"encoding":{"text":{"field":"t"}}},
{"data":{"values":[{"row":"cc","i":-9,"t":"Cloud Cover:"},{"row":"ec","i":-9,"t":"ECMWF Cloud:"},{"row":"tr","i":-9,"t":"Transparency:"},{"row":"se","i":-9,"t":"Seeing:"},{"row":"da","i":-9,"t":"Darkness:"},{"row":"sm","i":-9,"t":"Smoke:"},{"row":"wi","i":-9,"t":"Wind:"},{"row":"hu","i":-9,"t":"Humidity:"},{"row":"te","i":-9,"t":"Temperature:"}]},"mark":{"type":"text","yOffset":-3},"encoding":{"text":{"field":"t"},"color":{"condition":{"test":"datum.t=='Darkness:'","value":"#55aa33"},"value":"#ffffff"}}},
{"data":{"values":[{"row":"xc","i":-9,"t":"Cloud Cover:"},{"row":"xe","i":-9,"t":"ECMWF Cloud:"},{"row":"xd","i":-9,"t":"Darkness:"}]},"mark":{"type":"text","yOffset":1},"encoding":{"text":{"field":"t"},"color":{"condition":{"test":"datum.t=='Darkness:'","value":"#55aa33"},"value":"#ffffff"}}},
{"data":{"values":[{"row":"date","i":-10,"t":"2026-07-19"}]},"mark":{"type":"text","dx":2,"yOffset":-1,"color":"#66ff66"},"encoding":{"text":{"field":"t"}}},
{"data":{"values":[{"row":"tens","i":-10,"t":"Local Time"}]},"mark":{"type":"text","dx":2,"yOffset":-2,"color":"#c8c800"},"encoding":{"text":{"field":"t"}}},
{"data":{"values":[{"row":"ones","i":-9,"t":"(GMT -6+0)"}]},"mark":{"type":"text","dx":-4,"yOffset":-5,"fontSize":7,"fontWeight":"bold","color":"#c8c800"},"encoding":{"text":{"field":"t"}}},
{"data":{"values":[{"row":"xtitle","i":-10,"t":"EXTENDED Forecast. Each block is 3 hours. (A sponsored feature)"}]},"mark":{"type":"text","dx":0,"yOffset":0,"color":"#ff0000"},"encoding":{"text":{"field":"t"}}},
{"data":{"values":[{"row":"xdate","i":-10,"t":"2026-07-23"}]},"mark":{"type":"text","dx":2,"yOffset":3,"color":"#6666ff"},"encoding":{"text":{"field":"t"}}},
{"data":{"values":[{"row":"xtens","i":-10,"t":"Local Time"}]},"mark":{"type":"text","dx":2,"yOffset":2,"color":"#c8c800"},"encoding":{"text":{"field":"t"}}},
{"data":{"values":[{"row":"xones","i":-9,"t":"(GMT -6+0)"}]},"mark":{"type":"text","dx":-4,"yOffset":-1,"fontSize":7,"fontWeight":"bold","color":"#c8c800"},"encoding":{"text":{"field":"t"}}},
{"encoding":{"color":{"field":"date","type":"ordinal","legend":null,"scale":{"domain":[19,20,21,22,23,24,25,26,27,28,29],"range":["#66ff66","#ffff00","#ff6666","#ff00ff","#6666ff","#66ff66","#ffff00","#ff6666","#ff00ff","#6666ff","#66ff66"]}}},"layer":[
{"data":{"name":"hours"},"mark":{"type":"text","align":"center","yOffset":-2},"encoding":{"y":{"datum":"tens"},"text":{"field":"tens"}}},
{"data":{"name":"hours"},"mark":{"type":"text","align":"center","yOffset":-2.5},"encoding":{"y":{"datum":"ones"},"text":{"field":"ones"}}},
{"data":{"name":"xhours"},"mark":{"type":"text","align":"center","yOffset":2},"encoding":{"y":{"datum":"xtens"},"text":{"field":"tens"}}},
{"data":{"name":"xhours"},"mark":{"type":"text","align":"center","yOffset":1},"encoding":{"y":{"datum":"xones"},"text":{"field":"ones"}}},
{"data":{"values":[{"row":"date","i":0,"date":19,"t":"Sun"},{"row":"date","i":13,"date":20,"t":"Monday, 20"},{"row":"date","i":37,"date":21,"t":"Tuesday, 21"},{"row":"date","i":61,"date":22,"t":"Wednesday, 22"},{"row":"date","i":75,"date":23,"t":"Thu"}]},"mark":{"type":"text","dx":-5,"yOffset":-1},"encoding":{"text":{"field":"t"}}},
{"data":{"values":[{"row":"xdate","i":0,"date":23,"t":"Thu, 23"},{"row":"xdate","i":8,"date":24,"t":"Fri, 24"},{"row":"xdate","i":16,"date":25,"t":"Sat, 25"},{"row":"xdate","i":24,"date":26,"t":"Sun, 26"},{"row":"xdate","i":32,"date":27,"t":"Mon, 27"},{"row":"xdate","i":40,"date":28,"t":"Tue, 28"}]},"mark":{"type":"text","dx":-1.5,"yOffset":3},"encoding":{"text":{"field":"t"}}},
{"data":{"values":[{"row":"xdate","i":45,"date":29,"t":"We"}]},"mark":{"type":"text","dx":0.5,"yOffset":3},"encoding":{"text":{"field":"t"}}}
]},
{"data":{"values":[{"i":19,"row":"title","t":"Smokey Jack Observatory"}]},"mark":{"type":"text","font":"DejaVu Sans Mono","fontWeight":"bold","fontSize":20,"yOffset":-7,"dx":2,"color":"#ffff00"},"encoding":{"text":{"field":"t"}}},
{"data":{"values":[{"i":40,"row":"title","t":"Clear Sky Chart"}]},"mark":{"type":"text","font":"DejaVu Sans Mono","fontWeight":"bold","fontSize":20,"yOffset":-7,"dx":-3,"color":"#00c8c8"},"encoding":{"text":{"field":"t"}}},
{"data":{"values":[{"row":"foot","i":14,"t":"© 2026 Attilla Danko"}]},"mark":{"type":"text","color":"#ffffff","yOffset":-5,"dx":-8},"encoding":{"text":{"field":"t"}}},
{"data":{"values":[{"row":"foot","i":28,"t":"forecast: A.Rahill"}]},"mark":{"type":"text","color":"#ffffff","yOffset":-5,"dx":-5},"encoding":{"text":{"field":"t"}}},
{"data":{"values":[{"row":"foot","i":41,"t":"data:"}]},"mark":{"type":"text","color":"#ffffff","yOffset":-5,"dx":-7},"encoding":{"text":{"field":"t"}}},
{"data":{"values":[{"i":47,"row":"foot"}]},"mark":{"type":"tick","size":15,"thickness":27,"xOffset":3.5,"yOffset":-2.5,"color":"#ff0000"}},
{"data":{"values":[{"i":47,"row":"foot"}]},"mark":{"type":"tick","size":15,"thickness":12,"xOffset":4,"yOffset":-2.5,"color":"#ffffff"}},
{"data":{"values":[{"i":53,"row":"foot"}]},"mark":{"type":"tick","size":15,"thickness":139,"xOffset":2.5,"yOffset":-2.5,"color":"#ffffff"}},
{"data":{"values":[{"i":47,"row":"foot"}]},"mark":{"type":"point","filled":true,"opacity":1,"size":100,"xOffset":4,"yOffset":-3,"color":"#ff0000","shape":"M0,-.5 L.1,-.3 L.2,-.35 L.15,-.1 L.3,-.2 L.35,-.1 L.5,-.05 L.4,.05 L.45,.15 L.03,.2 L.03,.5 L-.03,.5 L-.03,.2 L-.45,.15 L-.4,.05 L-.5,-.05 L-.35,-.1 L-.3,-.2 L-.15,-.1 L-.2,-.35 L-.1,-.3 Z"}},
{"data":{"values":[{"row":"foot","i":49,"t":"Environment"}]},"mark":{"type":"text","fontSize":7.7,"yOffset":-6,"dx":2,"color":"#000000"},"encoding":{"text":{"field":"t"}}},
{"data":{"values":[{"row":"foot","i":49,"t":"Canada"}]},"mark":{"type":"text","fontSize":7.7,"yOffset":1,"dx":2,"color":"#000000"},"encoding":{"text":{"field":"t"}}},
{"data":{"values":[{"row":"foot","i":54,"t":"Environnement"}]},"mark":{"type":"text","fontSize":7.7,"yOffset":-6,"dx":-2.5,"color":"#000000"},"encoding":{"text":{"field":"t"}}},
{"data":{"values":[{"row":"foot","i":54,"t":"Canada"}]},"mark":{"type":"text","fontSize":7.7,"yOffset":1,"dx":-2.5,"color":"#000000"},"encoding":{"text":{"field":"t"}}}
]}
